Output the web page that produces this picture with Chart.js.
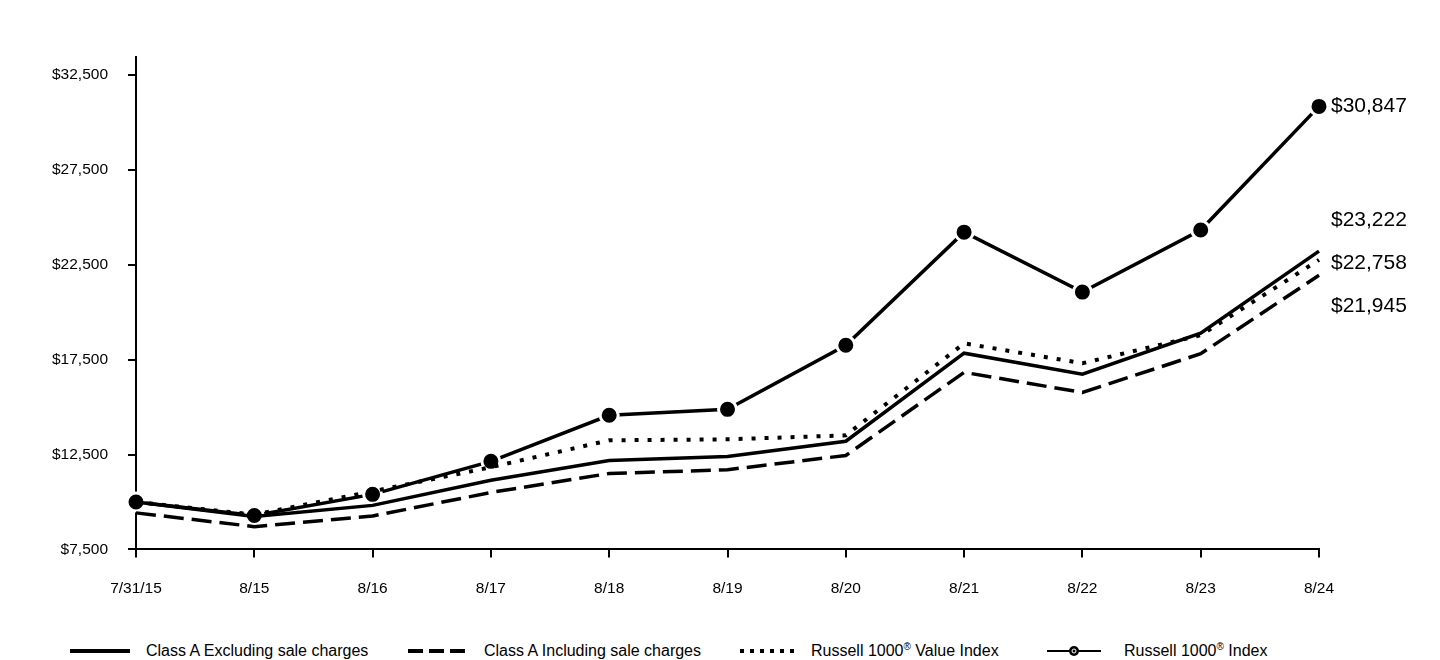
<!DOCTYPE html>
<html>
<head>
<meta charset="utf-8">
<script src="https://cdn.jsdelivr.net/npm/chart.js@4.4.1/dist/chart.umd.min.js"></script>
<style>
  html, body { margin: 0; padding: 0; background: #fff; }
  #wrap { position: relative; width: 1440px; height: 660px; }
  #chartBox { position: absolute; left: 0; top: 0; width: 1440px; height: 620px; }
  #legend { position: absolute; left: 70px; top: 642px; display: flex; align-items: center;
            font-family: Arial, "Liberation Sans", sans-serif; font-size: 16px; color: #000; white-space: nowrap; }
  .item { display: flex; align-items: center; }
  .item:nth-child(1) { width: 338px; }
  .item:nth-child(2) { width: 332px; }
  .item:nth-child(3) { width: 307px; }
  .item svg { margin-right: 16px; }
  .item:nth-child(4) svg { margin-right: 23px; }
  sup { font-size: 10px; line-height: 0; }
</style>
</head>
<body>
<div id="wrap">
  <div id="chartBox"><canvas id="c"></canvas></div>
  <div id="legend"></div>
</div>
<script>
const categories = ["7/31/15","8/15","8/16","8/17","8/18","8/19","8/20","8/21","8/22","8/23","8/24"];
const classAExcl = [10000, 9240, 9820, 11140, 12190, 12400, 13200, 17840, 16730, 18890, 23222];
const classAIncl = [9425, 8700, 9260, 10500, 11500, 11700, 12450, 16830, 15770, 17810, 21945];
const valueIndex = [10000, 9330, 10560, 11830, 13250, 13300, 13510, 18360, 17310, 18790, 22758];
const russell1000 = [10000, 9290, 10400, 12140, 14570, 14880, 18260, 24220, 21060, 24330, 30847];
const yTickValues = [7500, 12500, 17500, 22500, 27500, 32500];
const seriesNames = ["Class A Excluding sale charges", "Class A Including sale charges", "Russell 1000® Value Index", "Russell 1000® Index"];
const yMin = 7500, yMax = 33450;

const FONT = 'Arial, "Liberation Sans", sans-serif';

const endLabels = {
  id: 'endLabels',
  afterDatasetsDraw(chart) {
    const ctx = chart.ctx;
    const x = chart.chartArea.right + 12;
    const ys = chart.scales.y;
    const items = chart.data.datasets.map((d, i) => ({ v: d.data[d.data.length - 1], idx: i }));
    const top = items.filter(it => it.idx === 3);
    const rest = items.filter(it => it.idx !== 3).sort((a, b) => b.v - a.v);
    ctx.save();
    ctx.font = '21px ' + FONT;
    ctx.fillStyle = '#000';
    ctx.textBaseline = 'middle';
    ctx.textAlign = 'left';
    const fmt = v => '$' + v.toLocaleString('en-US');
    top.forEach(it => ctx.fillText(fmt(it.v), x, ys.getPixelForValue(it.v)));
    const midY = ys.getPixelForValue(rest[1].v) + 3;
    const gap = 43;
    rest.forEach((it, k) => ctx.fillText(fmt(it.v), x, midY + (k - 1) * gap));
    ctx.restore();
  }
};

const chart = new Chart(document.getElementById('c'), {
  type: 'line',
  data: {
    labels: categories,
    datasets: [
      { label: seriesNames[0], data: classAExcl, borderColor: '#000', borderWidth: 3.5, pointRadius: 0, borderCapStyle: 'butt', tension: 0 },
      { label: seriesNames[1], data: classAIncl, borderColor: '#000', borderWidth: 3.5, borderDash: [20, 8], pointRadius: 0, tension: 0 },
      { label: seriesNames[2], data: valueIndex, borderColor: '#000', borderWidth: 4, borderDash: [4, 9], pointRadius: 0, tension: 0 },
      { label: seriesNames[3], data: russell1000, borderColor: '#000', borderWidth: 3.5, pointRadius: 9, pointBackgroundColor: '#000', pointBorderColor: '#fff', pointBorderWidth: 3, tension: 0 }
    ]
  },
  options: {
    responsive: true,
    maintainAspectRatio: false,
    animation: false,
    layout: { padding: { left: 0, right: 121, top: 57, bottom: 0 } },
    plugins: { legend: { display: false }, tooltip: { enabled: false } },
    scales: {
      x: {
        offset: false,
        grid: { display: true, drawOnChartArea: false, color: '#000', lineWidth: 2, tickLength: 8 },
        border: { display: true, color: '#000', width: 2 },
        ticks: { color: '#000', font: { family: FONT, size: 15.5 }, padding: 22, maxRotation: 0, autoSkip: false }
      },
      y: {
        min: yMin, max: yMax,
        afterBuildTicks(scale) {
          scale.ticks = yTickValues.map(v => ({ value: v }));
        },
        afterFit(scale) { scale.width = 136; },
        grid: { display: true, drawOnChartArea: false, color: '#000', lineWidth: 2, tickLength: 8 },
        border: { display: true, color: '#000', width: 2 },
        ticks: {
          color: '#000', font: { family: FONT, size: 15.5 }, padding: 20,
          callback: v => '$' + Number(v).toLocaleString('en-US')
        }
      }
    }
  },
  plugins: [endLabels]
});

const legendDash = [null, [15, 6], [4, 6], null];
const legend = document.getElementById('legend');
chart.data.datasets.forEach((d, i) => {
  const item = document.createElement('div');
  item.className = 'item';
  const w = i === 3 ? 54 : (i === 2 ? 55 : 60);
  let svg = `<svg width="${w}" height="14" viewBox="0 0 ${w} 14">`;
  const dash = legendDash[i] ? `stroke-dasharray="${legendDash[i].join(' ')}"` : '';
  svg += `<line x1="0" y1="7" x2="${w}" y2="7" stroke="#000" stroke-width="${i === 3 ? 2 : 4}" ${dash}/>`;
  if (i === 3) svg += `<circle cx="${w/2}" cy="7" r="5" fill="#000"/><circle cx="${w/2}" cy="7" r="2" fill="none" stroke="#fff" stroke-width="1"/>`;
  svg += `</svg>`;
  const txt = d.label.replace('®', '<sup>®</sup>');
  item.innerHTML = svg + `<span>${txt}</span>`;
  legend.appendChild(item);
});
</script>
</body>
</html>
